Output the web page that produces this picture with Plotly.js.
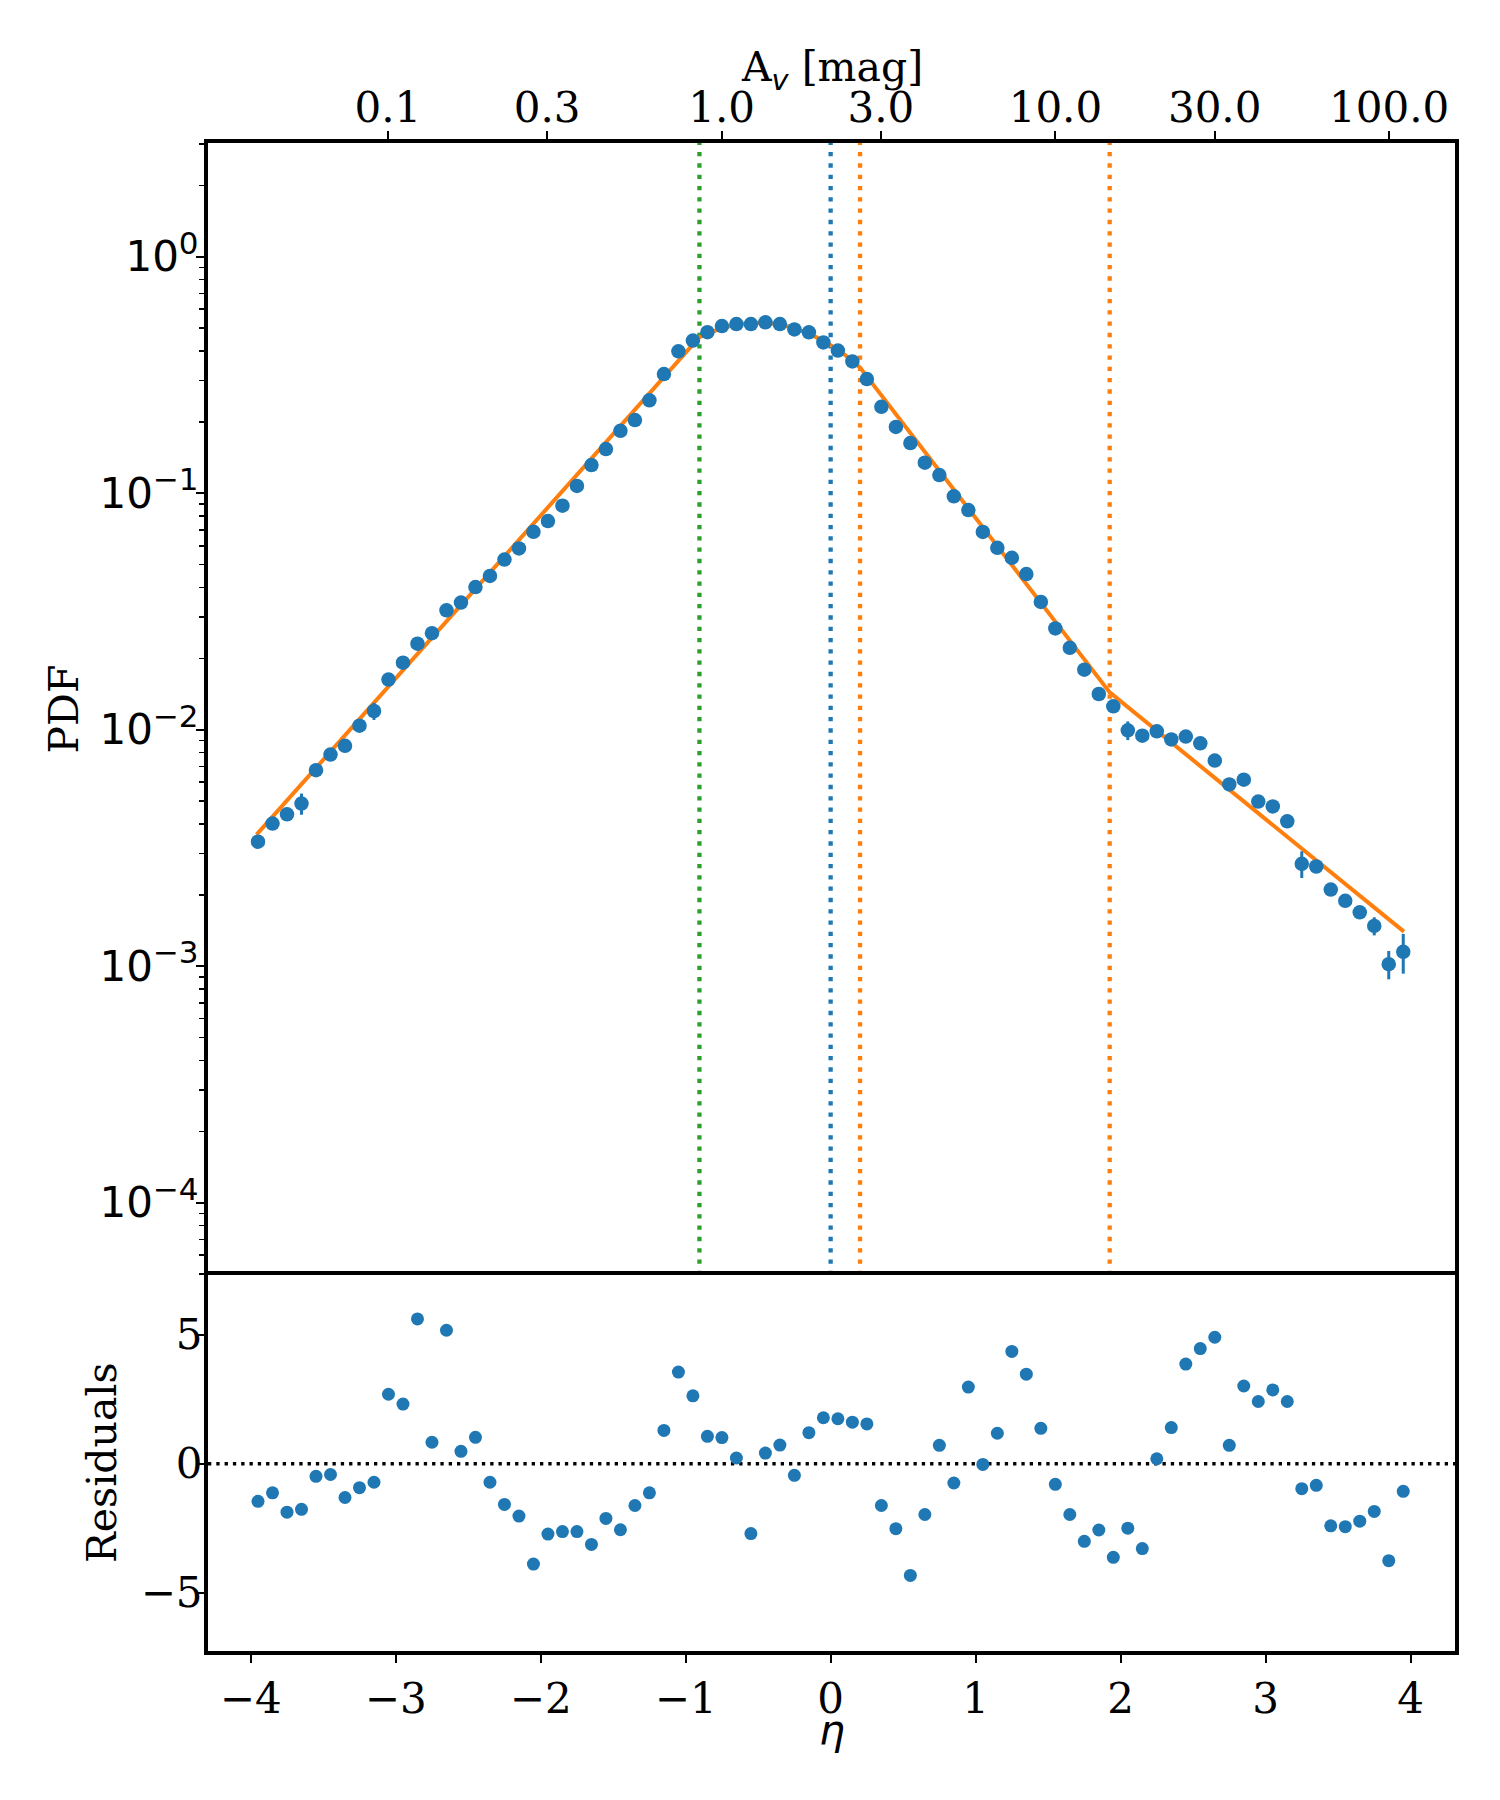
<!DOCTYPE html>
<html>
<head>
<meta charset="utf-8">
<script src="https://cdn.plot.ly/plotly-3.0.1.min.js"></script>
<style>
  html, body { margin: 0; padding: 0; background: #ffffff; }
  #chart { width: 1500px; height: 1800px; }
</style>
</head>
<body>
<div id="chart"></div>
<script>
// ---------------- data ----------------
const eta = [-3.95,-3.85,-3.75,-3.65,-3.55,-3.45,-3.35,-3.25,-3.15,-3.05,
  -2.95,-2.85,-2.75,-2.65,-2.55,-2.45,-2.35,-2.25,-2.15,-2.05,
  -1.95,-1.85,-1.75,-1.65,-1.55,-1.45,-1.35,-1.25,-1.15,-1.05,
  -0.95,-0.85,-0.75,-0.65,-0.55,-0.45,-0.35,-0.25,-0.15,-0.05,
  0.05,0.15,0.25,0.35,0.45,0.55,0.65,0.75,0.85,0.95,
  1.05,1.15,1.25,1.35,1.45,1.55,1.65,1.75,1.85,1.95,
  2.05,2.15,2.25,2.35,2.45,2.55,2.65,2.75,2.85,2.95,
  3.05,3.15,3.25,3.35,3.45,3.55,3.65,3.75,3.85,3.95];

const pdf = [0.00336,0.00401,0.00439,0.00487,0.00674,0.00785,0.00855,0.0104,0.0120,0.0163,
  0.0192,0.0231,0.0256,0.0320,0.0345,0.0401,0.0447,0.0524,0.0584,0.0687,
  0.0763,0.0886,0.1074,0.1315,0.1538,0.1837,0.2038,0.247,0.319,0.398,
  0.442,0.480,0.509,0.519,0.519,0.528,0.519,0.493,0.479,0.434,
  0.401,0.361,0.304,0.232,0.1908,0.163,0.1346,0.1193,0.0971,0.0849,
  0.0686,0.0588,0.0533,0.0455,0.0347,0.0268,0.0222,0.01795,0.01416,0.01256,
  0.00994,0.00944,0.00985,0.0091,0.00935,0.00876,0.00741,0.00587,0.00615,0.00497,
  0.00474,0.0041,0.00271,0.00264,0.00211,0.00189,0.00169,0.00148,0.00102,0.00115];

const pdfErr = [0.00015,0.00016,0.00018,0.0005,0.0002,0.00025,0.00028,0.0003,0.001,0.0004,
  0.0005,0.0006,0.0006,0.0007,0.0008,0.0009,0.001,0.001,0.0011,0.0012,
  0.0013,0.0015,0.0017,0.002,0.0022,0.0025,0.0027,0.003,0.0035,0.004,
  0.0045,0.0045,0.0045,0.0045,0.0045,0.0045,0.0045,0.0045,0.0045,0.0045,
  0.004,0.004,0.0035,0.003,0.0028,0.0026,0.0024,0.0022,0.002,0.0019,
  0.0017,0.0016,0.0015,0.0014,0.0012,0.001,0.0009,0.0008,0.0007,0.0006,
  0.0009,0.0004,0.0004,0.0004,0.0004,0.0004,0.0004,0.0003,0.0003,0.0003,
  0.00025,0.00022,0.00035,0.00015,0.00012,0.0001,0.0001,0.00013,0.00014,0.00022];

const residuals = [-1.46,-1.13,-1.88,-1.77,-0.49,-0.42,-1.31,-0.93,-0.72,2.69,
  2.31,5.61,0.83,5.17,0.48,1.02,-0.72,-1.58,-2.03,-3.89,
  -2.73,-2.63,-2.63,-3.13,-2.12,-2.56,-1.62,-1.13,1.29,3.55,
  2.63,1.06,1.01,0.22,-2.71,0.41,0.72,-0.45,1.20,1.78,
  1.74,1.61,1.54,-1.62,-2.52,-4.33,-1.97,0.71,-0.75,2.97,
  -0.03,1.18,4.35,3.47,1.37,-0.80,-1.97,-3.01,-2.57,-3.63,
  -2.50,-3.29,0.19,1.40,3.86,4.46,4.90,0.71,3.01,2.41,
  2.86,2.41,-0.97,-0.84,-2.41,-2.44,-2.23,-1.85,-3.76,-1.07];

// fitted model (orange curve)
const fitEta = [-3.96,-0.905,-0.8,-0.7,-0.6,-0.5,-0.4,-0.3,-0.2,-0.1,0.0,0.1,0.203,1.925,3.955];
const fitPdf = [0.00360,0.457,0.486,0.508,0.521,0.526,0.521,0.508,0.486,0.457,0.423,0.384,0.340,0.01438,0.00140];

// vertical transition markers
const vlineEta = [-0.905, 0.0, 0.203, 1.925];
const vlineColor = ['#2ca02c', '#1f77b4', '#ff7f0e', '#ff7f0e'];

// tick labels
const etaTicks = [-4,-3,-2,-1,0,1,2,3,4];
const etaTickText = ['\u22124','\u22123','\u22122','\u22121','0','1','2','3','4'];
const pdfTicks = [1e-4,1e-3,1e-2,1e-1,1];
const pdfExponents = ['\u22124','\u22123','\u22122','\u22121','0'];
const residTicks = [-5,0,5];
const residTickText = ['\u22125','0','5'];
const avTicks = [0.1,0.3,1,3,10,30,100];
const avTickText = ['0.1','0.3','1.0','3.0','10.0','30.0','100.0'];

// ---------------- scales / styles ----------------
const LN_A0 = 0.752;               // eta = ln(Av) - LN_A0
const etaRange = [-4.295, 4.307];
const pdfLogRange = [-4.306, 0.481];
const residRange = [-7.26, 7.31];
const avLogRange = etaRange.map(e => (e + LN_A0) / Math.LN10);

const BLUE = '#1f77b4', ORANGE = '#ff7f0e';
const SERIF = 'DejaVu Serif', SANS = 'DejaVu Sans';
const FS = 41, TFS = 42;
const LW = 4;

const pdfTickText = pdfExponents.map(e => '10<sup><span style="font-size:31px">' + e + '</span></sup>');

const minorTicks = [];
for (let k = -5; k <= 0; k++) for (let m = 2; m <= 9; m++) minorTicks.push(m * Math.pow(10, k));

const traces = [
  { x: fitEta, y: fitPdf, xaxis: 'x2', yaxis: 'y', type: 'scatter', mode: 'lines',
    line: { color: ORANGE, width: 4 }, hoverinfo: 'skip', showlegend: false },
  { x: eta, y: pdf, xaxis: 'x2', yaxis: 'y', type: 'scatter', mode: 'markers',
    marker: { color: BLUE, size: 14.5 },
    error_y: { type: 'data', array: pdfErr, visible: true, color: BLUE, thickness: 3, width: 0 },
    hoverinfo: 'skip', showlegend: false },
  { x: eta, y: residuals, xaxis: 'x', yaxis: 'y2', type: 'scatter', mode: 'markers',
    marker: { color: BLUE, size: 13 }, hoverinfo: 'skip', showlegend: false },
  // carrier for the top A_v axis
  { x: [avTicks[0], avTicks[avTicks.length - 1]], y: [1, 1], xaxis: 'x3', yaxis: 'y',
    type: 'scatter', mode: 'markers', marker: { opacity: 0 }, hoverinfo: 'skip', showlegend: false }
];

const shapes = vlineEta.map((v, i) => ({
  type: 'line', xref: 'x2', yref: 'y domain', x0: v, x1: v, y0: 0, y1: 1,
  line: { color: vlineColor[i], width: 4.3, dash: '4.3px,7px' }, layer: 'below'
}));
shapes.push({
  type: 'line', xref: 'x domain', yref: 'y2', x0: 0, x1: 1, y0: 0, y1: 0,
  line: { color: 'black', width: 3.5, dash: '3.3px,5px' }, layer: 'below'
});

const split = 0.2493;
const axCommon = { showline: true, linecolor: 'black', linewidth: LW, mirror: true,
  showgrid: false, zeroline: false, tickcolor: 'black', tickwidth: 2, ticklen: 8, ticks: 'outside' };

const annotations = [
  { text: '<i>\u03b7</i>', xref: 'paper', yref: 'paper', x: 0.5, y: -0.0523,
    xanchor: 'center', yanchor: 'middle', showarrow: false,
    font: { family: SANS, size: FS, color: 'black' } },
  { text: 'A<sub><span style="font-family:DejaVu Sans"><i>v</i></span></sub> [mag]',
    xref: 'paper', yref: 'paper', x: 0.5, y: 1.0484,
    xanchor: 'center', yanchor: 'middle', showarrow: false,
    font: { family: SERIF, size: FS, color: 'black' } },
  { text: 'PDF', xref: 'paper', yref: 'paper', x: -0.1151, y: (1 + split) / 2,
    xanchor: 'center', yanchor: 'middle', textangle: -90, showarrow: false,
    font: { family: SERIF, size: FS, color: 'black' } },
  { text: 'Residuals', xref: 'paper', yref: 'paper', x: -0.0850, y: split / 2,
    xanchor: 'center', yanchor: 'middle', textangle: -90, showarrow: false,
    font: { family: SERIF, size: FS, color: 'black' } }
];

const layout = {
  width: 1500, height: 1800,
  margin: { l: 208, r: 45, t: 143, b: 149, pad: 0 },
  paper_bgcolor: 'white', plot_bgcolor: 'white',
  font: { family: SERIF, size: FS, color: 'black' },
  showlegend: false,
  xaxis: Object.assign({}, axCommon, {
    domain: [0, 1], anchor: 'y2', range: etaRange,
    tickmode: 'array', tickvals: etaTicks, ticktext: etaTickText,
    tickfont: { family: SERIF, size: TFS, color: 'black' }
  }),
  yaxis2: Object.assign({}, axCommon, {
    domain: [0, split], anchor: 'x', range: residRange,
    tickmode: 'array', tickvals: residTicks, ticktext: residTickText,
    ticklabelstandoff: -15,
    tickfont: { family: SERIF, size: TFS, color: 'black' }
  }),
  xaxis2: {
    domain: [0, 1], anchor: 'y', matches: 'x', range: etaRange,
    showline: false, showgrid: false, zeroline: false,
    showticklabels: false, ticks: ''
  },
  yaxis: Object.assign({}, axCommon, {
    domain: [split, 1], anchor: 'x2', type: 'log', range: pdfLogRange,
    tickmode: 'array', tickvals: pdfTicks, ticktext: pdfTickText,
    ticklabelstandoff: -11,
    tickfont: { family: SANS, size: TFS, color: 'black' },
    minor: { tickmode: 'array', tickvals: minorTicks, ticks: 'outside', ticklen: 5, tickwidth: 1.6, tickcolor: 'black', showgrid: false }
  }),
  xaxis3: {
    overlaying: 'x2', side: 'top', anchor: 'y', type: 'log', range: avLogRange,
    showline: true, linecolor: 'black', linewidth: LW, showgrid: false, zeroline: false,
    ticks: 'outside', ticklen: 8, tickwidth: 2, tickcolor: 'black',
    tickmode: 'array', tickvals: avTicks, ticktext: avTickText,
    ticklabelstandoff: -8,
    tickfont: { family: SERIF, size: TFS, color: 'black' }
  },
  annotations: annotations,
  shapes: shapes
};

Plotly.newPlot('chart', traces, layout, { displayModeBar: false, staticPlot: true });
</script>
</body>
</html>
